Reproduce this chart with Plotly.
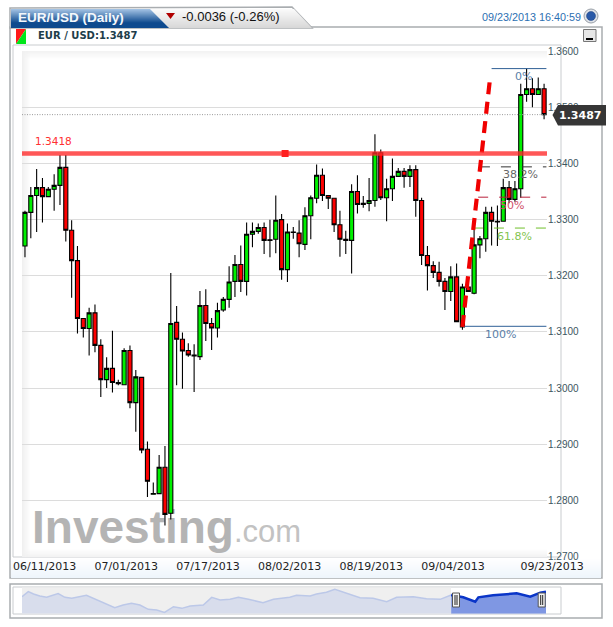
import plotly.graph_objects as go

W, H = 613, 627

# ---------- data ----------
opens = [1.3253,1.3313,1.3343,1.3357,1.3341,1.3354,1.3361,1.3393,1.3281,1.3227,
         1.3124,1.3106,1.3134,1.3076,1.3015,1.3035,1.3010,1.3006,1.3067,1.2974,
         1.3019,1.2891,1.2811,1.2812,1.2859,1.2777,1.3117,1.3087,1.3067,1.3059,
         1.3056,1.3147,1.3115,1.3107,1.3139,1.3158,1.3190,1.3220,1.3190,1.3274,
         1.3279,1.3286,1.3264,1.3265,1.3300,1.3211,1.3278,1.3276,1.3256,1.3307,
         1.3338,1.3379,1.3343,1.3338,1.3291,1.3265,1.3263,1.3350,1.3329,1.3329,
         1.3334,1.3419,1.3339,1.3355,1.3377,1.3386,1.3377,1.3389,1.3334,1.3236,
         1.3218,1.3206,1.3190,1.3172,1.3198,1.3109,1.3180,1.3169,1.3255,1.3266,
         1.3313,1.3297,1.3297,1.3357,1.3336,1.3355,1.3523,1.3533,1.3523,1.3533]
highs = [1.3316,1.3358,1.3390,1.3374,1.3358,1.3381,1.3415,1.3415,1.3299,1.3253,
         1.3124,1.3143,1.3149,1.3087,1.3055,1.3102,1.3015,1.3071,1.3076,1.3032,
         1.3020,1.2905,1.2832,1.2881,1.2897,1.3205,1.3146,1.3099,1.3080,1.3078,
         1.3173,1.3176,1.3125,1.3152,1.3162,1.3217,1.3237,1.3254,1.3295,1.3295,
         1.3293,1.3295,1.3300,1.3343,1.3310,1.3293,1.3287,1.3299,1.3322,1.3343,
         1.3398,1.3391,1.3343,1.3339,1.3316,1.3280,1.3363,1.3379,1.3342,1.3374,
         1.3452,1.3425,1.3373,1.3409,1.3392,1.3392,1.3397,1.3397,1.3339,1.3253,
         1.3226,1.3225,1.3196,1.3217,1.3222,1.3186,1.3196,1.3282,1.3271,1.3323,
         1.3323,1.3325,1.3373,1.3369,1.3369,1.3542,1.3569,1.3552,1.3553,1.3542]
lows = [1.3233,1.3267,1.3278,1.3295,1.3340,1.3316,1.3326,1.3261,1.3161,1.3097,
        1.3090,1.3058,1.3064,1.2984,1.3000,1.2992,1.3005,1.3006,1.2964,1.2922,
        1.2884,1.2806,1.2811,1.2812,1.2755,1.2766,1.3005,1.2999,1.3056,1.2993,
        1.3050,1.3084,1.3068,1.3090,1.3136,1.3143,1.3162,1.3171,1.3165,1.3251,
        1.3275,1.3239,1.3233,1.3240,1.3193,1.3189,1.3266,1.3233,1.3246,1.3265,
        1.3329,1.3333,1.3319,1.3278,1.3234,1.3239,1.3204,1.3311,1.3321,1.3315,
        1.3323,1.3335,1.3297,1.3333,1.3377,1.3357,1.3358,1.3305,1.3219,1.3174,
        1.3196,1.3181,1.3139,1.3155,1.3118,1.3104,1.3172,1.3167,1.3231,1.3243,
        1.3254,1.3253,1.3297,1.3329,1.3332,1.3339,1.3510,1.3500,1.3523,1.3479]
closes = [1.3313,1.3343,1.3357,1.3341,1.3354,1.3361,1.3393,1.3281,1.3227,1.3124,
          1.3106,1.3134,1.3076,1.3015,1.3035,1.3010,1.3008,1.3067,1.2974,1.3020,
          1.2890,1.2834,1.2812,1.2859,1.2775,1.3115,1.3087,1.3066,1.3059,1.3057,
          1.3147,1.3115,1.3107,1.3138,1.3158,1.3189,1.3220,1.3190,1.3274,1.3279,
          1.3286,1.3263,1.3263,1.3299,1.3211,1.3278,1.3277,1.3257,1.3307,1.3339,
          1.3379,1.3343,1.3338,1.3291,1.3265,1.3263,1.3350,1.3327,1.3327,1.3334,
          1.3419,1.3339,1.3355,1.3377,1.3386,1.3377,1.3389,1.3334,1.3236,1.3218,
          1.3206,1.3190,1.3172,1.3198,1.3118,1.3180,1.3172,1.3255,1.3266,1.3313,
          1.3297,1.3296,1.3357,1.3336,1.3355,1.3523,1.3533,1.3523,1.3533,1.3487]
bar_index = list(range(len(opens)))

date_ticks = [2, 16, 30, 44, 58, 72, 89]
date_labels = ["06/11/2013", "07/01/2013", "07/17/2013", "08/02/2013",
               "08/19/2013", "09/04/2013", "09/23/2013"]
price_ticks = [1.27, 1.28, 1.29, 1.30, 1.31, 1.32, 1.33, 1.34, 1.35, 1.36]
price_labels = ["1.2700", "1.2800", "1.2900", "1.3000", "1.3100", "1.3200",
                "1.3300", "1.3400", "1.3500", "1.3600"]

last_price = 1.3487
level_price = 1.3418
level_handle_bar = 44.6
trend_bars = [75.0, 79.75]
trend_prices = [1.3109, 1.3553]
fib_names = ["0%", "38.2%", "50%", "61.8%", "100%"]
fib_prices = [1.3569, 1.3394, 1.3340, 1.3285, 1.3110]
fib_start_bars = [80.0, 78.0, 77.7, 76.8, 75.0]
fib_label_bars = [85.4, 84.9, 83.5, 83.9, 81.5]
fib_label_prices = [1.3555, 1.3380, 1.3325, 1.3270, 1.3096]
fib_colors = ["#2f5f96", "#333333", "#b8203a", "#6fbf2a", "#2f5f96"]
fib_text_colors = ["#5b7fa8", "#666666", "#d0506a", "#84c450", "#5b7fa8"]

nav_pct = [0,1.2,2.2,3.4,4.7,6.9,8.2,9.5,12.3,14.3,16.2,17.7,19.3,20.9,22.5,24.1,25.7,
           27.2,28.9,30.5,32.1,34.6,36.2,37.8,39.7,41.3,43.2,46.0,48.0,49.9,51.1,52.4,
           55.0,56.2,58.1,59.7,61.3,63.2,64.5,67.0,69.6,71.5,74.7,77.2,79.8,81.9]
nav_level = [51,66,59,53,49,60,49,46,55,41,29,18,26,31,26,13,11,4,21,16,23,26,49,41,43,
             49,43,33,43,48,49,55,53,59,64,73,64,53,48,46,36,49,51,45,43,56]
nav_sel_pct = [81.9,84.2,86.5,87.1,89.9,94.4,97.0,98.9,100]
nav_sel_level = [56,49,36,49,55,61,51,63,66]


# ---------- pixel helpers for page furniture ----------
def fx(px):
    return px / W


def fy(py):
    return 1 - py / H


def rect(x0, y0, x1, y1, fill=None, line=None, lw=1, layer="below"):
    return dict(type="rect", xref="paper", yref="paper", x0=fx(x0), x1=fx(x1), y0=fy(y0), y1=fy(y1),
                fillcolor=fill if fill else "rgba(0,0,0,0)",
                line=dict(color=line if line else "rgba(0,0,0,0)", width=lw if line else 0), layer=layer)


def poly(points, fill=None, line=None, lw=1, layer="above", closed=True):
    d = "M" + " L".join(f"{fx(x):.5f},{fy(y):.5f}" for x, y in points) + (" Z" if closed else "")
    return dict(type="path", xref="paper", yref="paper", path=d,
                fillcolor=fill if fill else "rgba(0,0,0,0)",
                line=dict(color=line if line else "rgba(0,0,0,0)", width=lw if line else 0), layer=layer)


def mix(a, b, t):
    return "rgb(" + ",".join(str(round(a[i] + (b[i] - a[i]) * t)) for i in range(3)) + ")"


shapes = []
# panel
shapes.append(rect(10, 27, 602, 578, "#ffffff", "#a9adb0", 1.5))
for i in range(20):
    shapes.append(rect(11, 558 + i, 601, 559 + i, mix((255, 255, 255), (238, 245, 252), i / 19)))
shapes.append(rect(13, 45, 561, 557, "#ffffff", "#c9cccf", 1))
# soft plot edges
for i in range(8):
    c = mix((243, 243, 243), (255, 255, 255), i / 8)
    shapes.append(rect(22, 51 + i, 547, 52 + i, c))
    shapes.append(rect(22, 556 - i, 547, 557 - i, c))
for i in range(8):
    c = "rgba(240,240,240,%.2f)" % (1 - i / 8)
    shapes.append(rect(22 + i, 51, 23 + i, 557, c))

# header tabs
shapes.append(poly([(10, 28), (10, 8), (292, 7), (312, 28)], "#ffffff", "#a9adb0", 1.5, layer="below"))
for i in range(19):
    t = i / 18
    xr = 150 + 18 * t
    shapes.append(poly([(168 - 18 + 18 * t, 9 + i), (294 + 17 * t, 9 + i), (295 + 17 * t, 10 + i), (169 - 18 + 18 * t, 10 + i)],
                       mix((250, 250, 250), (216, 216, 216), t), layer="below"))
    shapes.append(poly([(11, 9 + i), (xr, 9 + i), (xr + 1, 10 + i), (11, 10 + i)],
                       mix((160, 192, 226), (14, 74, 142), min(1, t * 1.35)), layer="below"))
shapes.append(poly([(166, 13), (175, 13), (170.5, 19)], "#b00000"))
# colour flag
shapes.append(poly([(16, 29), (26, 29), (16, 44)], "#ff1a1a"))
shapes.append(poly([(26, 29), (26, 44), (16, 44)], "#00e61a"))
# top right ball and minimise button
shapes.append(dict(type="circle", xref="paper", yref="paper", x0=fx(584), x1=fx(598), y0=fy(23), y1=fy(9),
                   fillcolor="#dfe3e8", line=dict(color="#9aa0a8", width=1), layer="above"))
shapes.append(dict(type="circle", xref="paper", yref="paper", x0=fx(586.5), x1=fx(595.5), y0=fy(20.5), y1=fy(11.5),
                   fillcolor="#2a5aa8", line=dict(color="#1b3f7c", width=0.5), layer="above"))
shapes.append(rect(583.5, 29.5, 596, 41.5, "#e6e6e6", "#777777", 1, layer="above"))
shapes.append(rect(586, 38, 593, 40, "#000000", layer="above"))
# price callout
shapes.append(poly([(552.5, 115), (558, 105), (606, 105), (606, 125.5), (558, 125.5)], "#363636"))
# watermark (real text, beneath the candles)
shapes.append(dict(type="rect", xref="paper", yref="paper", x0=fx(29), x1=fx(240), y0=fy(549), y1=fy(496),
                   fillcolor="rgba(0,0,0,0)", line=dict(width=0), layer="below",
                   label=dict(text="<b>Investing</b>", textposition="middle left",
                              padding=0, font=dict(family="Liberation Sans", size=46, color="#b4b4b4"))))
shapes.append(dict(type="rect", xref="paper", yref="paper", x0=fx(231), x1=fx(305), y0=fy(548), y1=fy(508),
                   fillcolor="rgba(0,0,0,0)", line=dict(width=0), layer="below",
                   label=dict(text=".com", textposition="middle left", padding=0,
                              font=dict(family="Liberation Sans", size=31, color="#c2c2c2"))))
# navigator frames
shapes.append(rect(10, 584, 602, 618, "#ffffff", "#a9adb0", 1.5))
shapes.append(rect(13, 587, 561, 614, "#ffffff", "#c9cccf", 1))
shapes.append(rect(22, 587.5, 451, 613.5, "#efefef"))
# navigator handles
for hx in (456, 541.7):
    shapes.append(dict(type="rect", xref="paper", yref="paper", x0=fx(hx - 3.5), x1=fx(hx + 3.5),
                       y0=fy(607), y1=fy(593), fillcolor="#f4f4f4", line=dict(color="#555555", width=1), layer="above"))
    for dx in (-1, 1):
        shapes.append(rect(hx + dx - 0.5, 595, hx + dx + 0.5, 605, "#222222", layer="above"))

fig = go.Figure()

fig.add_trace(go.Candlestick(
    x=bar_index, open=opens, high=highs, low=lows, close=closes,
    whiskerwidth=0, hoverinfo="skip",
    increasing=dict(fillcolor="#00f000", line=dict(color="#000000", width=1.1)),
    decreasing=dict(fillcolor="#fc0000", line=dict(color="#000000", width=1.1)),
    xaxis="x", yaxis="y", showlegend=False))

x_ends = [-0.51, 89.5]
fig.add_trace(go.Scatter(x=x_ends, y=[last_price, last_price], mode="lines", hoverinfo="skip", showlegend=False,
                         line=dict(color="#9a9a9a", width=1, dash="1px,1.5px")))
for start, price, color in zip(fib_start_bars, fib_prices, fib_colors):
    dash = "solid" if price in (fib_prices[0], fib_prices[-1]) else "10px,11px"
    fig.add_trace(go.Scatter(x=[start, 89.4], y=[price, price], mode="lines", hoverinfo="skip", showlegend=False,
                             line=dict(color=color, width=1, dash=dash)))
fig.add_trace(go.Scatter(x=trend_bars, y=trend_prices, mode="lines", hoverinfo="skip", showlegend=False,
                         line=dict(color="#f00000", width=4.2, dash="12px,7.5px")))
fig.add_trace(go.Scatter(x=x_ends, y=[level_price, level_price], mode="lines", hoverinfo="skip", showlegend=False,
                         line=dict(color="rgba(255,40,40,0.78)", width=4.5)))
fig.add_trace(go.Scatter(x=[level_handle_bar], y=[level_price], mode="markers", hoverinfo="skip", showlegend=False,
                         marker=dict(symbol="square", size=7, color="#ff2020")))

fig.add_trace(go.Scatter(x=nav_pct, y=nav_level, mode="lines", fill="tozeroy", xaxis="x2", yaxis="y2",
                         hoverinfo="skip", showlegend=False, fillcolor="#d8ddec",
                         line=dict(color="#bcc8e8", width=1.5)))
fig.add_trace(go.Scatter(x=nav_sel_pct, y=nav_sel_level, mode="lines", fill="tozeroy", xaxis="x2", yaxis="y2",
                         hoverinfo="skip", showlegend=False, fillcolor="#7f97e3",
                         line=dict(color="#0a35c8", width=2.5)))

annotations = []


def page_text(text, x, y, size, color, family="Liberation Sans", anchor="left"):
    annotations.append(dict(text=text, xref="paper", yref="paper", x=fx(x), y=fy(y), xanchor=anchor, yanchor="middle",
                            showarrow=False, font=dict(family=family, size=size, color=color)))


page_text("<b>EUR/USD (Daily)</b>", 15.5, 17.5, 13.5, "#f4f8fc")
page_text("-0.0036 (-0.26%)", 179.5, 17, 13, "#111111")
page_text("<b>EUR / USD:1.3487</b>", 36, 36, 10, "#1d3d4a", "DejaVu Sans")
page_text("09/23/2013 16:40:59", 480, 17, 10.8, "#2c6fb2")
page_text("<b>1.3487</b>", 580, 115, 11, "#ffffff", "DejaVu Sans", "center")

annotations.append(dict(text="1.3418", xref="x", yref="y", x=4.9, y=1.3440, xanchor="center", yanchor="middle",
                        showarrow=False, font=dict(family="DejaVu Sans", size=10.5, color="#ff3030")))
for name, bx, price, color in zip(fib_names, fib_label_bars, fib_label_prices, fib_text_colors):
    annotations.append(dict(text=name, xref="x", yref="y", x=bx, y=price, xanchor="center", yanchor="middle",
                            showarrow=False, font=dict(family="DejaVu Sans", size=11, color=color)))

fig.update_layout(
    width=W, height=H, autosize=False, margin=dict(l=0, r=0, t=0, b=0),
    paper_bgcolor="#ffffff", plot_bgcolor="rgba(0,0,0,0)", showlegend=False,
    boxgap=0.3, boxgroupgap=0, shapes=shapes, annotations=annotations,
    xaxis=dict(domain=[fx(22), fx(547)], range=x_ends, rangeslider=dict(visible=False), showgrid=False, zeroline=False,
               tickmode="array", tickvals=date_ticks, ticktext=date_labels, ticklen=0, showline=False, automargin=False,
               ticklabelshift=8, ticklabelstandoff=1,
               tickfont=dict(family="DejaVu Sans", size=11, color="#222222"), anchor="y"),
    yaxis=dict(domain=[fy(556.5), fy(51.2)], range=[1.27, 1.36], side="right", tickmode="array",
               tickvals=price_ticks, ticktext=price_labels, gridcolor="#dcdcdc", gridwidth=1, zeroline=False,
               ticklen=20, tickcolor="rgba(0,0,0,0)", showline=False, automargin=False,
               tickfont=dict(family="Liberation Sans", size=10, color="#3c5660"), anchor="x"),
    xaxis2=dict(domain=[fx(22), fx(546)], range=[0, 100], visible=False, anchor="y2", automargin=False),
    yaxis2=dict(domain=[fy(613.7), fy(587.3)], range=[0, 79], visible=False, anchor="x2", automargin=False),
)

fig.write_html("out.html", config={"displayModeBar": False},
               post_script="document.body.style.margin='0';document.body.style.overflow='hidden';")
